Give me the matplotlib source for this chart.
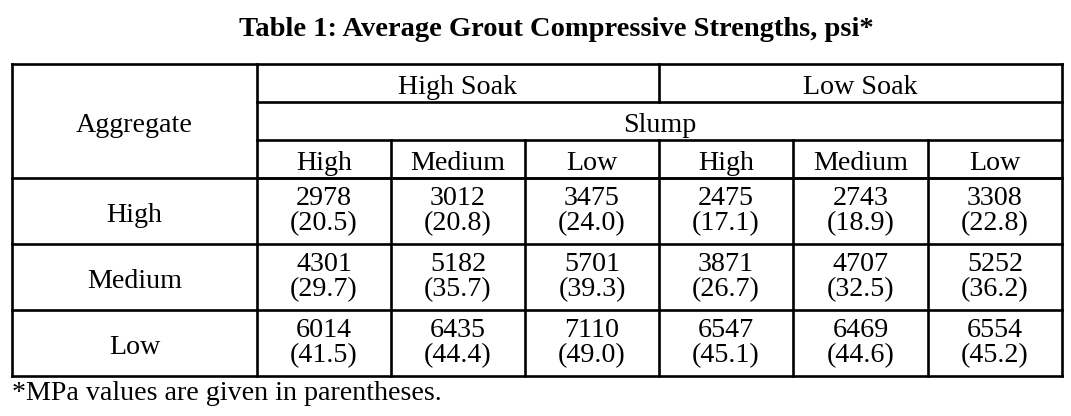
import matplotlib
matplotlib.use("Agg")
import matplotlib.pyplot as plt

# dane z tabeli
soak = ["High Soak", "Low Soak"]
slump = ["High", "Medium", "Low"]
aggregate = ["High", "Medium", "Low"]
psi = [
    [2978, 3012, 3475, 2475, 2743, 3308],
    [4301, 5182, 5701, 3871, 4707, 5252],
    [6014, 6435, 7110, 6547, 6469, 6554],
]
mpa = [
    [20.5, 20.8, 24.0, 17.1, 18.9, 22.8],
    [29.7, 35.7, 39.3, 26.7, 32.5, 36.2],
    [41.5, 44.4, 49.0, 45.1, 44.6, 45.2],
]
title = "Table 1: Average Grout Compressive Strengths, psi*"
footnote = "*MPa values are given in parentheses."

# układ w pikselach
W, H = 1071, 416
cols = [12, 257, 391, 525, 659, 793, 928, 1062]
hrows = [64, 102, 140, 178]
drows = [178, 244, 310, 376]
LW = 1.9
FS = 20.2
FONT = "Liberation Serif"

fig = plt.figure(figsize=(W / 100, H / 100), dpi=100)
ax = fig.add_axes([0, 0, 1, 1])
ax.set_xlim(0, W)
ax.set_ylim(H, 0)
ax.axis("off")


def line(x0, y0, x1, y1):
    ax.plot([x0, x1], [y0, y1], color="black", lw=LW, solid_capstyle="projecting")


def txt(x, y, s, **kw):
    ax.text(x, y, s, ha="center", va="baseline", fontsize=FS, family=FONT, **kw)


# ramka
line(cols[0], hrows[0], cols[-1], hrows[0])
line(cols[0], drows[-1], cols[-1], drows[-1])
line(cols[0], hrows[0], cols[0], drows[-1])
line(cols[-1], hrows[0], cols[-1], drows[-1])
# poziome w nagłówku
for y in hrows[1:]:
    line(cols[1], y, cols[-1], y)
for y in drows[:-1]:
    line(cols[0], y, cols[-1], y)
# pionowe
line(cols[1], hrows[0], cols[1], drows[-1])
line(cols[4], hrows[0], cols[4], hrows[1])
for i in range(2, 7):
    line(cols[i], hrows[2], cols[i], drows[-1])

ax.text(556, 36, title, ha="center", va="baseline",
        fontsize=20.5, family=FONT, fontweight="bold")

txt((cols[0] + cols[1]) / 2, (hrows[0] + hrows[-1]) / 2 + 11, "Aggregate")
for i, s in enumerate(soak):
    txt((cols[1 + 3 * i] + cols[4 + 3 * i]) / 2, (hrows[0] + hrows[1]) / 2 + 11, s)
txt((cols[1] + cols[-1]) / 2, (hrows[1] + hrows[2]) / 2 + 11, "Slump")
for j in range(6):
    txt((cols[1 + j] + cols[2 + j]) / 2, (hrows[2] + hrows[3]) / 2 + 11, slump[j % 3])

for r, name in enumerate(aggregate):
    cy = (drows[r] + drows[r + 1]) / 2
    txt((cols[0] + cols[1]) / 2, cy + 11, name)
    for j in range(6):
        cx = (cols[1 + j] + cols[2 + j]) / 2
        txt(cx, cy - 6, f"{psi[r][j]}")
        txt(cx, cy + 19, f"({mpa[r][j]:.1f})")

ax.text(cols[0], 400, footnote, ha="left", va="baseline", fontsize=FS, family=FONT)

fig.savefig("out.png", dpi=100)
